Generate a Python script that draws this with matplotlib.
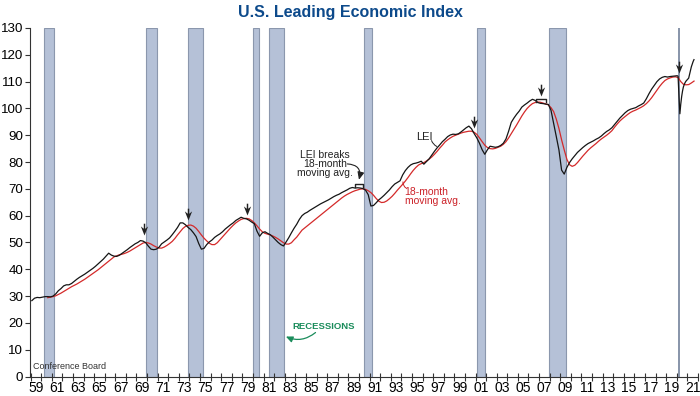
import numpy as np
import matplotlib
matplotlib.use("Agg")
import matplotlib.pyplot as plt
from matplotlib.path import Path

plt.rcParams['font.family'] = ['Liberation Sans', 'DejaVu Sans']

# LEI, quarterly from 1959 Q1 to 2019 Q4
lei_quarterly = [
    28.3, 29.2, 29.5, 29.4,   # 1959
    29.6, 29.8, 29.8, 29.7,   # 1960
    30.0, 30.8, 32.0, 32.8,   # 1961
    33.8, 34.2, 34.2, 34.7,   # 1962
    35.5, 36.3, 37.0, 37.6,   # 1963
    38.2, 38.9, 39.6, 40.3,   # 1964
    41.1, 42.0, 42.9, 43.8,   # 1965
    44.9, 46.0, 45.3, 44.9,   # 1966
    44.8, 45.2, 45.9, 46.6,   # 1967
    47.3, 48.1, 48.8, 49.5,   # 1968
    50.0, 50.7, 50.5, 49.9,   # 1969
    48.6, 47.5, 47.3, 47.5,   # 1970
    48.2, 49.5, 50.2, 50.9,   # 1971
    51.7, 52.9, 54.2, 55.6,   # 1972
    57.3, 57.3, 56.6, 55.6,   # 1973
    54.8, 53.6, 52.2, 49.6,   # 1974
    47.5, 47.8, 49.2, 50.2,   # 1975
    50.9, 51.9, 52.6, 53.2,   # 1976
    54.0, 55.0, 55.8, 56.6,   # 1977
    57.3, 58.2, 58.8, 59.4,   # 1978
    59.0, 58.8, 58.3, 57.6,   # 1979
    57.0, 54.2, 52.3, 53.6,   # 1980
    54.0, 53.4, 52.9, 52.0,   # 1981
    51.0, 50.0, 49.2, 48.7,   # 1982
    50.2, 51.8, 53.6, 55.3,   # 1983
    56.8, 58.6, 60.0, 60.8,   # 1984
    61.3, 62.0, 62.6, 63.2,   # 1985
    63.8, 64.4, 64.9, 65.4,   # 1986
    65.9, 66.5, 67.1, 67.6,   # 1987
    68.0, 68.6, 69.1, 69.6,   # 1988
    70.2, 70.5, 70.3, 70.4,   # 1989
    70.3, 70.1, 69.5, 67.8,   # 1990
    63.6, 63.8, 64.8, 65.9,   # 1991
    66.7, 67.6, 68.6, 69.6,   # 1992
    70.8, 71.8, 72.4, 73.0,   # 1993
    75.2, 76.8, 78.0, 78.9,   # 1994
    79.4, 79.6, 79.9, 80.3,   # 1995
    79.2, 80.2, 81.2, 82.6,   # 1996
    84.0, 85.3, 86.4, 87.6,   # 1997
    88.5, 89.5, 90.1, 90.4,   # 1998
    90.3, 90.5, 91.2, 92.0,   # 1999
    92.8, 93.4, 92.4, 90.6,   # 2000
    89.0, 87.0, 84.6, 82.9,   # 2001
    84.6, 85.9, 85.7, 85.5,   # 2002
    85.7, 86.2, 87.0, 88.6,   # 2003
    91.5, 94.8, 96.4, 97.8,   # 2004
    99.0, 100.5, 101.3, 102.0,  # 2005
    102.8, 103.4, 103.0, 102.2,  # 2006
    101.9, 101.8, 101.6, 101.5,  # 2007
    99.3, 94.5, 89.5, 84.5,   # 2008
    77.0, 75.5, 78.0, 79.8,   # 2009
    81.2, 82.4, 83.6, 84.5,   # 2010
    85.4, 86.2, 86.9, 87.4,   # 2011
    87.9, 88.5, 89.0, 89.7,   # 2012
    90.6, 91.4, 92.0, 92.8,   # 2013
    94.0, 95.2, 96.4, 97.4,   # 2014
    98.4, 99.2, 99.7, 100.0,  # 2015
    100.3, 100.9, 101.4, 102.0,  # 2016
    103.6, 105.5, 107.2, 108.6,  # 2017
    110.0, 111.0, 111.6, 111.9,  # 2018
    111.7, 111.9, 112.0, 112.1,  # 2019
]
# LEI, monthly for 2020-2021
lei_tail_dates = [2020.04, 2020.12, 2020.21, 2020.29, 2020.37, 2020.46, 2020.54,
                  2020.62, 2020.71, 2020.79, 2020.87, 2020.96, 2021.04, 2021.12,
                  2021.21, 2021.29, 2021.37, 2021.46, 2021.54, 2021.62]
lei_tail = [112.2, 112.0, 104.0, 98.0, 101.5, 104.5, 106.5, 108.0, 109.0, 109.7,
            110.2, 110.6, 111.0, 111.3, 112.8, 114.3, 115.5, 116.6, 117.5, 118.2]

# 18-month moving average, quarterly from 1960 Q3
ma_start = 1960.5
ma_quarterly = [
    29.4, 29.6,               # 1960
    29.8, 30.1, 30.6, 31.1,   # 1961
    31.7, 32.3, 32.9, 33.5,   # 1962
    34.0, 34.5, 35.1, 35.7,   # 1963
    36.3, 37.0, 37.7, 38.4,   # 1964
    39.1, 39.8, 40.6, 41.4,   # 1965
    42.2, 43.0, 43.8, 44.6,   # 1966
    45.0, 45.4, 45.6, 45.9,   # 1967
    46.3, 46.8, 47.4, 48.0,   # 1968
    48.6, 49.2, 49.8, 50.0,   # 1969
    49.8, 49.4, 48.8, 48.3,   # 1970
    47.9, 47.9, 48.3, 48.9,   # 1971
    49.6, 50.4, 51.5, 52.8,   # 1972
    54.0, 55.2, 56.0, 56.4,   # 1973
    56.5, 56.1, 55.3, 54.1,   # 1974
    52.8, 51.6, 50.6, 49.7,   # 1975
    49.2, 49.2, 49.9, 51.0,   # 1976
    52.1, 53.2, 54.3, 55.4,   # 1977
    56.4, 57.3, 58.0, 58.6,   # 1978
    58.9, 59.0, 58.8, 58.2,   # 1979
    57.3, 56.2, 55.0, 54.0,   # 1980
    53.4, 53.1, 52.8, 52.4,   # 1981
    51.9, 51.3, 50.6, 49.9,   # 1982
    49.4, 49.4, 49.9, 51.0,   # 1983
    52.0, 53.3, 54.6, 55.4,   # 1984
    56.2, 57.0, 57.8, 58.6,   # 1985
    59.4, 60.2, 61.0, 61.8,   # 1986
    62.6, 63.4, 64.2, 65.0,   # 1987
    65.8, 66.6, 67.3, 67.9,   # 1988
    68.4, 68.9, 69.3, 69.6,   # 1989
    69.9, 70.0, 69.8, 69.3,   # 1990
    68.6, 67.6, 66.4, 65.4,   # 1991
    64.9, 65.0, 65.5, 66.3,   # 1992
    67.2, 68.3, 69.5, 70.6,   # 1993
    71.7, 72.9, 74.2, 75.6,   # 1994
    76.9, 78.0, 78.9, 79.4,   # 1995
    79.8, 80.4, 81.1, 81.9,   # 1996
    82.9, 84.0, 85.2, 86.3,   # 1997
    87.5, 88.3, 89.0, 89.6,   # 1998
    90.0, 90.4, 90.8, 91.1,   # 1999
    91.3, 91.5, 91.5, 91.1,   # 2000
    90.3, 89.0, 87.6, 86.3,   # 2001
    85.4, 85.0, 84.9, 85.1,   # 2002
    85.5, 85.9, 86.6, 87.6,   # 2003
    89.0, 90.6, 92.2, 93.8,   # 2004
    95.5, 97.2, 98.7, 100.0,  # 2005
    101.0, 101.8, 102.2, 102.4,  # 2006
    102.3, 102.0, 101.7, 101.3,  # 2007
    100.3, 98.8, 96.0, 92.5,  # 2008
    88.3, 84.5, 81.0, 79.0,   # 2009
    78.4, 78.8, 79.8, 81.0,   # 2010
    82.2, 83.3, 84.4, 85.3,   # 2011
    86.1, 86.9, 87.8, 88.6,   # 2012
    89.3, 90.0, 90.8, 91.7,   # 2013
    93.0, 94.2, 95.3, 96.2,   # 2014
    97.0, 97.8, 98.5, 99.0,   # 2015
    99.4, 99.9, 100.4, 101.0,  # 2016
    101.8, 102.8, 104.0, 105.4,  # 2017
    106.8, 108.2, 109.4, 110.4,  # 2018
    111.0, 111.4, 111.7, 111.8,  # 2019
    111.5, 110.0, 109.0, 108.8,  # 2020
    108.9, 109.5, 110.2,      # 2021
]

# NBER recessions (start, end) in decimal years
recessions = [(1960.25, 1961.17), (1969.92, 1970.92), (1973.83, 1975.25),
              (1980.0, 1980.58), (1981.5, 1982.92), (1990.5, 1991.25),
              (2001.17, 2001.92), (2007.92, 2009.5)]
covid_recession = (2020.08, 2020.33)

# signal arrows (x, tip value)
arrow_years = [1969.68, 1973.83, 1979.4, 2000.87, 2007.16, 2020.2]
arrow_tips = [52.6, 58.2, 60.4, 92.8, 104.6, 113.3]

year_labels = ['%02d' % (y % 100) for y in range(1959, 2022, 2)]

lei_t = 1959 + (np.arange(len(lei_quarterly)) + 0.5) / 4
lei_x = np.concatenate([lei_t, lei_tail_dates])
lei_y = np.concatenate([lei_quarterly, lei_tail])
ma_x = ma_start + (np.arange(len(ma_quarterly)) + 0.5) / 4

fig = plt.figure(figsize=(7, 3.96), dpi=100)
ax = fig.add_axes([30 / 700, 19.5 / 396, 668 / 700, 348.5 / 396])

for a, b in recessions:
    ax.axvspan(a, b, facecolor='#b5c1d7', edgecolor='#8b97ad', lw=0.8, zorder=1)
ax.axvspan(*covid_recession, facecolor='#8a96ab', edgecolor='none', zorder=1)

ax.plot(ma_x, ma_quarterly, color='#d42a2a', lw=0.9, zorder=3)
ax.plot(lei_x, lei_y, color='#151515', lw=0.9, zorder=4)

# arrowhead markers
arrow_path = Path([(0, 0), (-0.4, 1.0), (-0.08, 0.74), (-0.08, 1.3),
                   (0.08, 1.3), (0.08, 0.74), (0.4, 1.0), (0, 0)],
                  [Path.MOVETO] + [Path.LINETO] * 6 + [Path.CLOSEPOLY])
ax.plot(arrow_years, arrow_tips, ls='none', marker=arrow_path, ms=17,
        color='#222222', mec='none', zorder=5)

# brackets
for x0, x1, yb in [(1989.6, 1990.4, 71.8), (2006.7, 2007.62, 103.4)]:
    ax.plot([x0, x0, x1, x1], [yb - 1.0, yb, yb, yb - 1.0], color='#222222',
            lw=1.0, zorder=5)

# annotations
ax.text(1986.8, 79.2, 'LEI breaks\n18-month\nmoving avg.', ha='center', va='center',
        fontsize=7.5, linespacing=0.9, color='#222222')
ax.annotate('', xy=(1990.0, 73.4), xytext=(1988.9, 79.3),
            arrowprops=dict(arrowstyle='-|>,head_length=0.45,head_width=0.2',
                            connectionstyle='arc3,rad=-0.6', color='#222222',
                            lw=0.8, shrinkA=0, shrinkB=0))
ax.text(1996.2, 89.4, 'LEI', ha='center', va='center', fontsize=8, color='#222222')
ax.annotate('', xy=(1997.35, 85.8), xytext=(1996.85, 88.0),
            arrowprops=dict(arrowstyle='-', connectionstyle='arc3,rad=0.2',
                            color='#222222', lw=0.7, shrinkA=0, shrinkB=0))
ax.text(1994.3, 67.2, '18-month\nmoving avg.', ha='left', va='center', fontsize=7.5,
        linespacing=0.9, color='#cc2229')
ax.annotate('', xy=(1994.15, 72.6), xytext=(1994.45, 70.3),
            arrowprops=dict(arrowstyle='-', connectionstyle='arc3,rad=-0.3',
                            color='#cc2229', lw=0.7, shrinkA=0, shrinkB=0))
ax.text(1986.7, 18.8, 'RECESSIONS', ha='center', va='center', fontsize=6.8,
        fontweight='bold', color='#1a8c5b')
ax.annotate('', xy=(1983.1, 14.9), xytext=(1985.9, 16.4),
            arrowprops=dict(arrowstyle='-|>,head_length=0.4,head_width=0.18',
                            connectionstyle='arc3,rad=-0.3', color='#1a8c5b',
                            lw=0.9, shrinkA=0, shrinkB=0))
ax.text(1959.25, 3.6, 'Conference Board', ha='left', va='center', fontsize=6.5,
        color='#333333')

fig.text(0.5, 1 - 12 / 396, 'U.S. Leading Economic Index', ha='center', va='center',
         fontsize=11.5, fontweight='bold', color='#0d4a8b')

ax.set_xlim(1958.95, 2022.0)
ax.set_ylim(0, 130)
ax.set_yticks(range(0, 131, 10))
ax.set_xticks(range(1959, 2023))
ax.set_xticklabels([])
ax.set_xticks([y + 0.5 for y in range(1959, 2022, 2)], minor=True)
ax.set_xticklabels(year_labels, minor=True)
ax.tick_params(axis='x', which='major', direction='inout', length=6, width=0.8,
               color='#333333')
ax.tick_params(axis='x', which='minor', length=0, pad=3, labelsize=10)
ax.tick_params(axis='y', direction='out', length=3.5, width=0.8, pad=1.5,
               labelsize=9.6, color='#333333')

for side in ['top', 'right']:
    ax.spines[side].set_visible(False)
for side in ['left', 'bottom']:
    ax.spines[side].set_linewidth(0.8)
    ax.spines[side].set_color('#333333')

fig.savefig('out.png', dpi=100)
